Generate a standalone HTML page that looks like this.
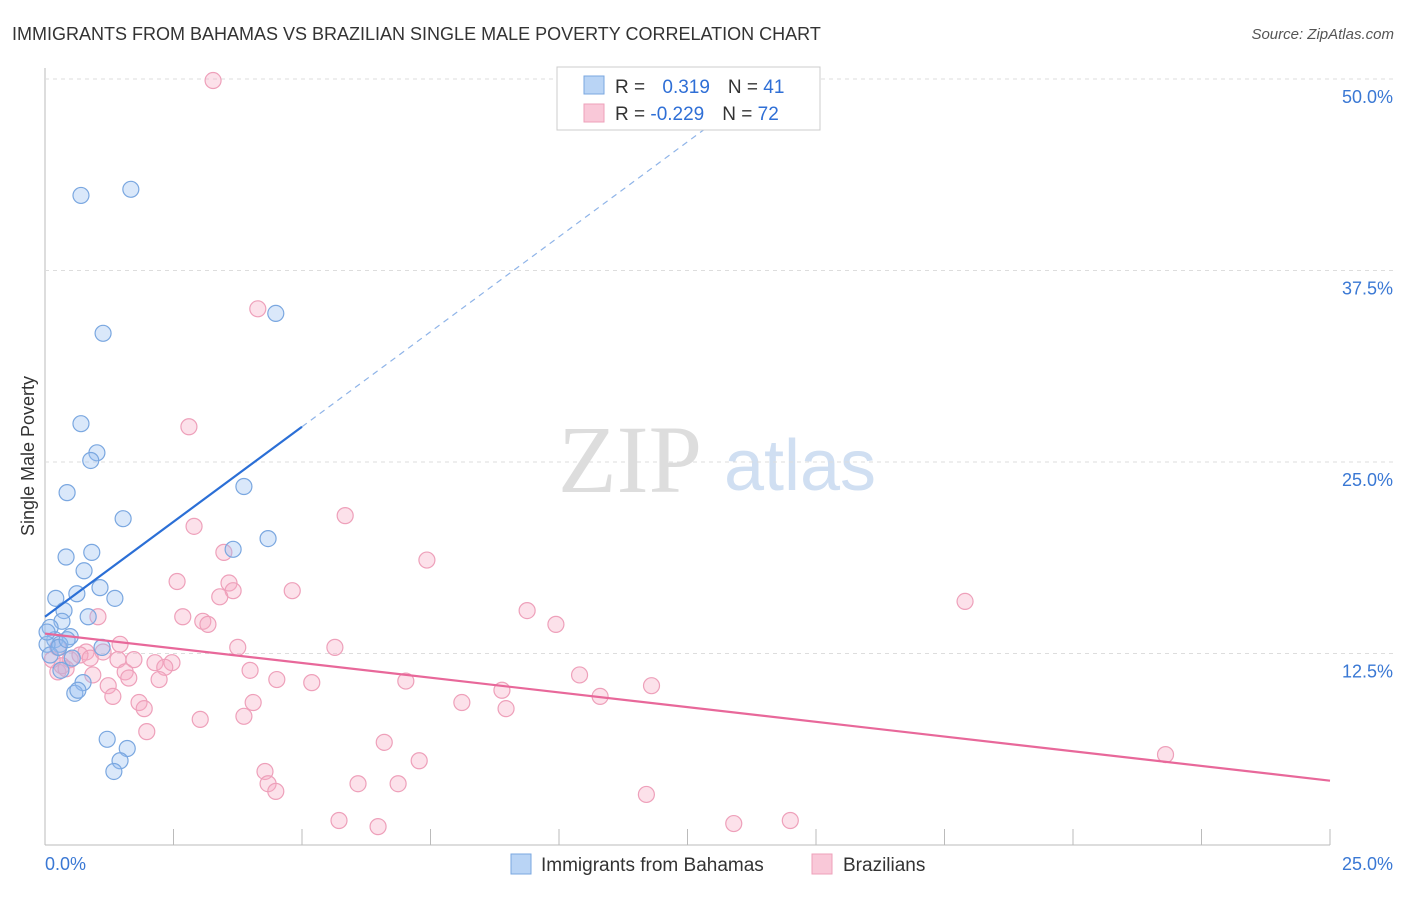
<!DOCTYPE html>
<html><head><meta charset="utf-8"><style>
body{margin:0;background:#fff;font-family:"Liberation Sans",sans-serif}
</style></head><body>
<svg id="c" width="1406" height="892" xmlns="http://www.w3.org/2000/svg">
<text x="12" y="40" font-size="18" fill="#333">IMMIGRANTS FROM BAHAMAS VS BRAZILIAN SINGLE MALE POVERTY CORRELATION CHART</text>
<text x="1394" y="39" font-size="15" fill="#555" text-anchor="end" font-style="italic">Source: ZipAtlas.com</text>
<text x="630" y="492" font-size="96" fill="#ddd" font-family="Liberation Serif" text-anchor="middle">ZIP</text>
<text x="800" y="490" font-size="72" fill="#d0dff2" text-anchor="middle">atlas</text>
<text transform="translate(34,456) rotate(-90)" font-size="18" fill="#333" text-anchor="middle">Single Male Poverty</text>
<g id="grid"></g><g id="marks"></g>
<g>
<rect x="557" y="67" width="263" height="63" fill="#fff" stroke="#ccc"/>
<rect x="584" y="76" width="20" height="18" fill="#b9d4f5" stroke="#7aa7e0"/>
<rect x="584" y="104" width="20" height="18" fill="#f9c8d8" stroke="#eea0ba"/>
<text x="615" y="93" font-size="19" fill="#333">R = <tspan fill="#2f6fd6" dx="12">0.319</tspan><tspan fill="#333" dx="18">N = </tspan><tspan fill="#2f6fd6">41</tspan></text>
<text x="615" y="120" font-size="19" fill="#333">R = <tspan fill="#2f6fd6">-0.229</tspan><tspan fill="#333" dx="18">N = </tspan><tspan fill="#2f6fd6">72</tspan></text>
</g>
<g>
<rect x="511" y="854" width="20" height="20" fill="#b9d4f5" stroke="#7aa7e0"/>
<text x="541" y="871" font-size="19" fill="#333">Immigrants from Bahamas</text>
<rect x="812" y="854" width="20" height="20" fill="#f9c8d8" stroke="#eea0ba"/>
<text x="843" y="871" font-size="19" fill="#333">Brazilians</text>
</g>
</svg>
<script>
const xTicks=[0,2.5,5,7.5,10,12.5,15,17.5,20,22.5,25];
const yTicks=[12.5,25,37.5,50];
const yTickLabels=["12.5%","25.0%","37.5%","50.0%"];
const blueX=[0.70,1.67,4.49,1.13,0.70,1.01,0.89,0.43,3.87,1.52,4.34,3.66,0.41,0.91,0.76,0.62,1.07,0.21,1.36,0.37,0.84,0.33,0.10,0.49,0.19,0.29,0.04,1.11,0.10,0.53,0.31,0.74,0.58,0.64,1.21,1.60,1.46,1.34,0.04,0.27,0.43];
const blueY=[42.4,42.8,34.7,33.4,27.5,25.6,25.1,23.0,23.4,21.3,20.0,19.3,18.8,19.1,17.9,16.4,16.8,16.1,16.1,15.3,14.9,14.6,14.2,13.6,13.4,13.1,13.1,12.9,12.4,12.2,11.4,10.6,9.9,10.1,6.9,6.3,5.5,4.8,13.9,12.9,13.4];
const pinkX=[3.27,4.14,2.80,2.90,5.84,7.43,3.48,2.57,3.58,3.66,4.81,3.40,2.68,3.07,3.17,1.03,9.38,9.94,17.9,3.75,5.64,0.80,1.13,1.42,1.73,2.14,2.47,2.33,3.99,1.56,0.25,0.93,2.22,1.63,4.51,5.19,7.02,10.4,11.8,1.23,1.32,8.89,10.8,8.11,8.97,1.83,1.93,4.05,3.87,3.02,1.98,6.60,7.28,4.28,4.34,4.49,6.09,6.87,11.7,5.72,6.48,13.4,14.5,21.8,0.49,0.14,0.33,0.68,0.25,1.46,0.88,0.41];
const pinkY=[49.9,35.0,27.3,20.8,21.5,18.6,19.1,17.2,17.1,16.6,16.6,16.2,14.9,14.6,14.4,14.9,15.3,14.4,15.9,12.9,12.9,12.6,12.6,12.1,12.1,11.9,11.9,11.6,11.4,11.3,11.3,11.1,10.8,10.9,10.8,10.6,10.7,11.1,10.4,10.4,9.7,10.1,9.7,9.3,8.9,9.3,8.9,9.3,8.4,8.2,7.4,6.7,5.5,4.8,4.0,3.5,4.0,4.0,3.3,1.6,1.2,1.4,1.6,5.9,12.1,12.1,11.7,12.4,12.9,13.1,12.2,11.5];
const blueTrend=[14.9,2.48];
const pinkTrend=[13.8,-0.384];
const NS="http://www.w3.org/2000/svg";
const X=v=>45+v*(1285/25);
const Y=v=>845-v*(191.5/12.5);
function mk(t,a,p){const e=document.createElementNS(NS,t);for(const k in a)e.setAttribute(k,a[k]);p.appendChild(e);return e;}
const grid=document.getElementById('grid'),marks=document.getElementById('marks');
let ax=mk('line',{x1:45,y1:845,x2:1330,y2:845,stroke:'#bbb'},grid);


let ay=mk('line',{x1:45,y1:68,x2:45,y2:845,stroke:'#bbb'},grid);


xTicks.forEach(v=>{const t=mk('line',{x1:X(v),y1:829,x2:X(v),y2:845,stroke:'#bbb'},grid);

});
yTicks.forEach((v,i)=>{const g=mk('line',{x1:45,y1:Y(v),x2:1394,y2:Y(v),stroke:'#ddd','stroke-dasharray':'4,4'},grid);


const t=mk('text',{x:1393,y:Y(v)+24,'font-size':18,fill:'#3a78d4','text-anchor':'end'},grid);t.textContent=yTickLabels[i];

});
const x0=mk('text',{x:45,y:870,'font-size':18,fill:'#3a78d4'},grid);x0.textContent='0.0%';


const x1=mk('text',{x:1393,y:870,'font-size':18,fill:'#3a78d4','text-anchor':'end'},grid);x1.textContent='25.0%';


pinkX.forEach((v,i)=>{const c=mk('circle',{cx:X(v),cy:Y(pinkY[i]),r:8,fill:'rgba(245,170,195,0.35)',stroke:'#eea0ba','stroke-width':1.2},marks);

});
blueX.forEach((v,i)=>{const c=mk('circle',{cx:X(v),cy:Y(blueY[i]),r:8,fill:'rgba(150,190,240,0.35)',stroke:'#7aa7e0','stroke-width':1.2},marks);

});
const bl=mk('line',{x1:X(0),y1:Y(blueTrend[0]),x2:X(5),y2:Y(blueTrend[0]+5*blueTrend[1]),stroke:'#2b6fd6','stroke-width':2.2},marks);


const bd=mk('line',{x1:X(5),y1:Y(blueTrend[0]+5*blueTrend[1]),x2:X(13.5),y2:Y(blueTrend[0]+13.5*blueTrend[1]),stroke:'#8fb4e8','stroke-width':1.2,'stroke-dasharray':'6,5'},marks);


const pl=mk('line',{x1:X(0),y1:Y(pinkTrend[0]),x2:X(25),y2:Y(pinkTrend[0]+25*pinkTrend[1]),stroke:'#e8689a','stroke-width':2.2},marks);


</script>
</body></html>
